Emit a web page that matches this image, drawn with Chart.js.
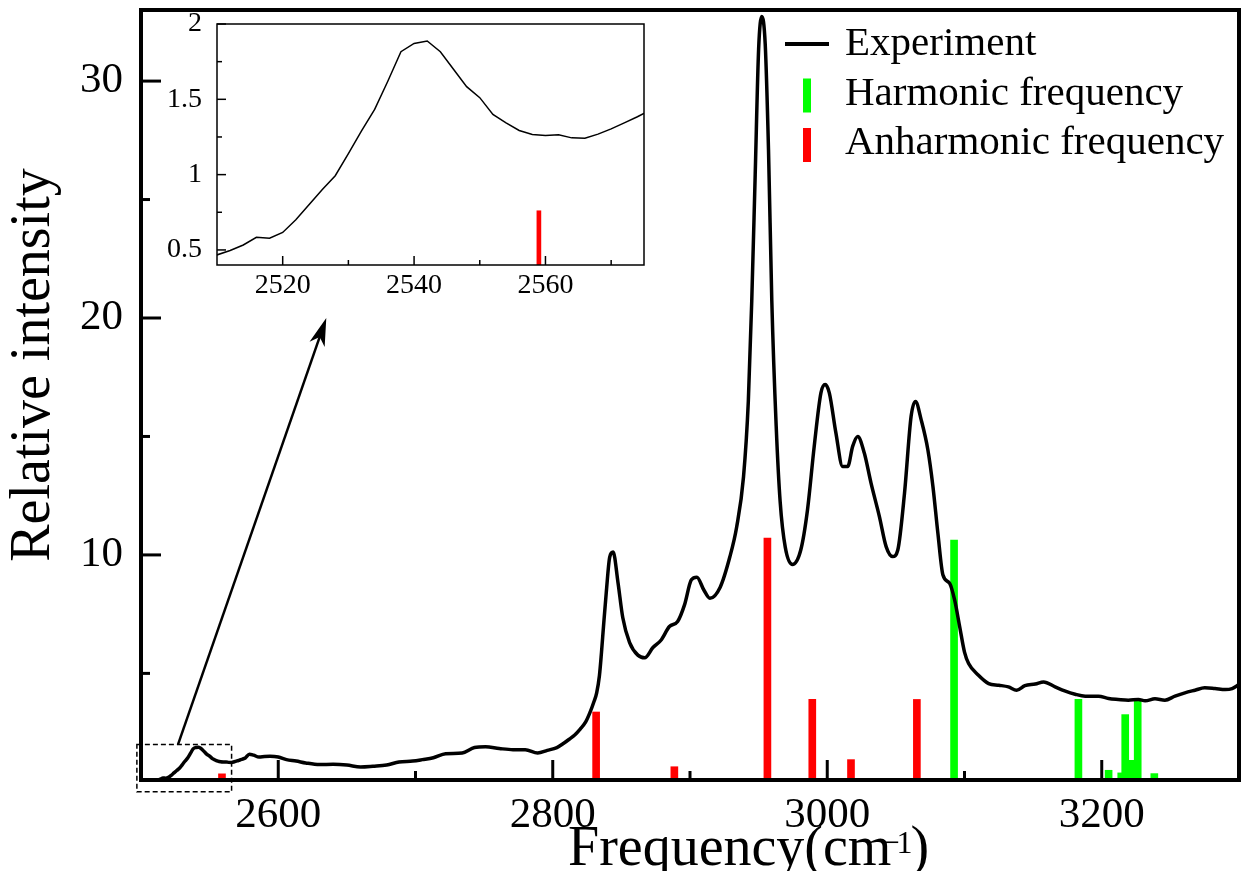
<!DOCTYPE html>
<html>
<head>
<meta charset="utf-8">
<title>Relative intensity vs frequency</title>
<script src="https://cdn.jsdelivr.net/npm/chart.js@4.4.1/dist/chart.umd.min.js"></script>
<style>
  body { margin: 0; background: #fff; }
  .wrap { position: relative; width: 1241px; height: 871px; overflow: hidden; }
  #main { position: absolute; left: 0; top: 0; }
  #inset { position: absolute; left: 150px; top: 10px; }
</style>
</head>
<body>
<div class="wrap">
  <canvas id="main" width="1241" height="871"></canvas>
  <canvas id="inset" width="500" height="300"></canvas>
</div>
<script>
// experiment spectrum
const expFreq = [
  2500, 2504, 2507, 2510, 2512, 2514, 2516, 2518, 2520, 2522, 2524, 2526, 2528, 2530,
  2532, 2534, 2536, 2538, 2540, 2542, 2544, 2546, 2548, 2550, 2552, 2554, 2556, 2558,
  2560, 2562, 2564, 2566, 2568, 2570, 2572, 2574, 2576, 2579, 2582, 2586, 2590, 2594,
  2600, 2606, 2613, 2620, 2630, 2640, 2650, 2660, 2669, 2679, 2688, 2698, 2705, 2713,
  2722, 2734, 2743, 2751, 2761, 2771, 2780, 2789, 2796, 2803, 2808, 2812, 2816, 2820,
  2824, 2827, 2830, 2832, 2834, 2835.5, 2837, 2839, 2841.5, 2844, 2847.5, 2851, 2856, 2862,
  2867, 2873, 2879, 2885, 2891, 2896, 2901, 2905, 2910, 2914.5, 2922, 2929, 2934, 2939,
  2942.5, 2945, 2947.5, 2950, 2952.3, 2954.8, 2957.2, 2959.6, 2962.8, 2965.7, 2969.4, 2974.7,
  2980.7, 2985.6, 2990.5, 2995.4, 2998.5, 3001.5, 3006.3, 3011.2, 3014.9, 3018.5, 3022.2, 3027,
  3031.9, 3038, 3042.9, 3047.7, 3051.4, 3056.3, 3061.1, 3064.3, 3068.4, 3073.3, 3077, 3080.6,
  3084.3, 3089.2, 3092.8, 3096.5, 3100, 3103, 3110, 3117.6, 3125, 3132, 3138, 3144,
  3151.6, 3157.6, 3166, 3173, 3180.6, 3188, 3197.6, 3205, 3212, 3219.4, 3226.7, 3231.6,
  3238.8, 3246, 3253.4, 3260.6, 3268, 3275, 3282.5, 3290, 3295, 3300
];
const expIntensity = [
  0.40, 0.43, 0.45, 0.467, 0.496, 0.533, 0.584, 0.578, 0.616, 0.70, 0.80, 0.90, 0.993, 1.14,
  1.29, 1.433, 1.62, 1.816, 1.871, 1.887, 1.816, 1.70, 1.584, 1.511, 1.40, 1.344, 1.293, 1.267,
  1.26, 1.264, 1.244, 1.242, 1.269, 1.304, 1.344, 1.384, 1.43, 1.59, 1.55, 1.47, 1.49, 1.50,
  1.47, 1.36, 1.30, 1.22, 1.15, 1.16, 1.13, 1.05, 1.08, 1.13, 1.26, 1.30, 1.36, 1.44,
  1.61, 1.64, 1.87, 1.90, 1.83, 1.78, 1.78, 1.64, 1.75, 1.87, 2.05, 2.22, 2.40, 2.65,
  2.95, 3.33, 3.80, 4.18, 4.90, 5.88, 7.0, 8.42, 9.91, 10.12, 8.85, 7.36, 6.30, 5.77,
  5.66, 6.09, 6.41, 6.98, 7.19, 7.89, 8.95, 9.06, 8.53, 8.17, 8.64, 9.91, 11.18, 13.30,
  16.49, 20.73, 26.04, 31.35, 32.73, 31.56, 27.1, 20.73, 15.43, 12.24, 10.33, 9.60,
  10.21, 11.9, 14.58, 16.84, 17.19, 16.84, 15.15, 13.73, 13.73, 14.58, 15.0, 14.3,
  13.03, 11.62, 10.35, 9.93, 10.21, 12.61, 15.85, 16.48, 15.71, 14.44, 12.89, 10.92,
  9.15, 8.80, 8.1, 6.97, 5.9, 5.42, 4.93, 4.57, 4.50, 4.43, 4.29, 4.48,
  4.55, 4.64, 4.43, 4.26, 4.12, 4.04, 4.04, 3.94, 3.90, 3.87, 3.90, 3.84,
  3.93, 3.87, 4.04, 4.18, 4.29, 4.39, 4.36, 4.32, 4.36, 4.53
];

// computed line positions
const harmonicFreq = [3092.4, 3183, 3205, 3214.2, 3217.1, 3222.2, 3226.2, 3238.3];
const harmonicIntensity = [10.63, 3.90, 0.91, 0.80, 3.26, 1.33, 3.90, 0.77];
const anharmonicFreq = [2559, 2831.6, 2888.6, 2956.4, 2989.1, 3017.3, 3065.3];
const anharmonicIntensity = [0.76, 3.37, 1.06, 10.71, 3.90, 1.36, 3.90];

// tick labels
const xTicks = [2600, 2800, 3000, 3200];
const yTicks = [10, 20, 30];
const insetXTicks = [2520, 2540, 2560];
const insetYTicks = [0.5, 1, 1.5, 2];

// zoom marker, in data units
const zoomBox = [2497, 0, 2566, 2];
const arrowFrom = [2527, 2.0];
const arrowTo = [2635, 20.0];

const FONT = '"Liberation Serif", "Times New Roman", serif';
Chart.defaults.font.family = FONT;
Chart.defaults.color = '#000';

const points = (xs, ys) => xs.map((x, i) => ({ x: x, y: ys[i] }));

function minorValues(majors, min, max) {
  const half = (majors[1] - majors[0]) / 2;
  const out = [];
  majors.forEach(v => [v - half, v + half].forEach(m => {
    if (m > min && m < max && !out.includes(m)) out.push(m);
  }));
  return out;
}

// fixed box size for a scale, no extra label padding
function fixSize(prop, size) {
  return s => {
    s[prop] = size;
    s.paddingTop = 0;
    s.paddingBottom = 0;
    s.paddingLeft = 0;
    s.paddingRight = 0;
  };
}

// ticks pointing into the plot, plus the frame
function innerTicks(major, minor, width, frame) {
  return {
    id: 'innerTicks',
    afterDraw(chart) {
      const { ctx, chartArea: a, scales: { x, y } } = chart;
      ctx.save();
      ctx.strokeStyle = '#000';
      ctx.lineWidth = width;
      const xs = x.ticks.map(t => t.value);
      const ys = y.ticks.map(t => t.value);
      const mark = (vals, len, isX) => vals.forEach(v => {
        ctx.beginPath();
        if (isX) {
          const px = x.getPixelForValue(v);
          ctx.moveTo(px, a.bottom);
          ctx.lineTo(px, a.bottom - len);
        } else {
          const py = y.getPixelForValue(v);
          ctx.moveTo(a.left, py);
          ctx.lineTo(a.left + len, py);
        }
        ctx.stroke();
      });
      mark(xs, major, true);
      mark(minorValues(xs, x.min, x.max), minor, true);
      mark(ys, major, false);
      mark(minorValues(ys, y.min, y.max), minor, false);
      ctx.lineWidth = frame;
      ctx.strokeRect(a.left, a.top, a.right - a.left, a.bottom - a.top);
      ctx.restore();
    }
  };
}

const zoomMarker = {
  id: 'zoomMarker',
  afterDraw(chart) {
    const { ctx, scales: { x, y } } = chart;
    ctx.save();
    ctx.strokeStyle = '#000';
    ctx.lineWidth = 1.5;
    ctx.setLineDash([5, 3]);
    const bx0 = x.getPixelForValue(zoomBox[0]), by0 = y.getPixelForValue(zoomBox[1]);
    const bx1 = x.getPixelForValue(zoomBox[2]), by1 = y.getPixelForValue(zoomBox[3]);
    ctx.strokeRect(bx0, by1, bx1 - bx0, by0 - by1);
    ctx.setLineDash([]);

    const sx = x.getPixelForValue(arrowFrom[0]), sy = y.getPixelForValue(arrowFrom[1]);
    const tx = x.getPixelForValue(arrowTo[0]), ty = y.getPixelForValue(arrowTo[1]);
    const ang = Math.atan2(ty - sy, tx - sx);
    const len = 28, half = 8, notch = 20;
    const cos = Math.cos(ang), sin = Math.sin(ang);
    ctx.lineWidth = 2.5;
    ctx.beginPath();
    ctx.moveTo(sx, sy);
    ctx.lineTo(tx - notch * cos, ty - notch * sin);
    ctx.stroke();
    ctx.fillStyle = '#000';
    ctx.beginPath();
    ctx.moveTo(tx, ty);
    ctx.lineTo(tx - len * cos + half * sin, ty - len * sin - half * cos);
    ctx.lineTo(tx - notch * cos, ty - notch * sin);
    ctx.lineTo(tx - len * cos - half * sin, ty - len * sin + half * cos);
    ctx.closePath();
    ctx.fill();
    ctx.restore();
  }
};

const cornerLegend = {
  id: 'cornerLegend',
  afterDraw(chart) {
    const ctx = chart.ctx;
    ctx.save();
    ctx.font = '41px ' + FONT;
    ctx.textBaseline = 'alphabetic';
    chart.data.datasets.forEach((ds, i) => {
      const base = 55 + i * 49.5;
      if (ds.type === 'line') {
        ctx.strokeStyle = ds.borderColor;
        ctx.lineWidth = 4;
        ctx.beginPath();
        ctx.moveTo(785, base - 11);
        ctx.lineTo(829, base - 11);
        ctx.stroke();
      } else {
        ctx.fillStyle = ds.backgroundColor;
        ctx.fillRect(803, base - 26, 8, 34);
      }
      ctx.fillStyle = '#000';
      ctx.fillText(ds.label, 845, base);
    });
    ctx.restore();
  }
};

const axisTitles = {
  id: 'axisTitles',
  afterDraw(chart) {
    const ctx = chart.ctx;
    ctx.save();
    ctx.fillStyle = '#000';
    ctx.textBaseline = 'alphabetic';
    ctx.font = '56px ' + FONT;

    ctx.save();
    ctx.translate(49, 365);
    ctx.rotate(-Math.PI / 2);
    ctx.textAlign = 'center';
    ctx.fillText('Relative intensity', 0, 0);
    ctx.restore();

    const x0 = 568, base = 865;
    ctx.textAlign = 'left';
    ctx.fillText('Frequency(cm', x0, base);
    const w = ctx.measureText('Frequency(cm').width;
    ctx.font = '32px ' + FONT;
    const sx = x0 + w - 10;
    ctx.fillText('\u2212', sx, base - 12);
    ctx.fillText('1', sx + 15, base - 12);
    ctx.font = '56px ' + FONT;
    ctx.fillText(')', sx + 29, base);
    ctx.restore();
  }
};

const mainChart = new Chart(document.getElementById('main'), {
  type: 'bar',
  data: {
    datasets: [
      {
        type: 'line',
        label: 'Experiment',
        data: points(expFreq, expIntensity),
        borderColor: '#000000',
        borderWidth: 3.5,
        pointRadius: 0,
        cubicInterpolationMode: 'monotone',
        order: 0,
        clip: 0
      },
      {
        type: 'bar',
        label: 'Harmonic frequency',
        data: points(harmonicFreq, harmonicIntensity),
        backgroundColor: '#00ff00',
        barThickness: 7,
        grouped: false,
        order: 1,
        clip: 0
      },
      {
        type: 'bar',
        label: 'Anharmonic frequency',
        data: points(anharmonicFreq, anharmonicIntensity),
        backgroundColor: '#ff0000',
        barThickness: 7,
        grouped: false,
        order: 2,
        clip: 0
      }
    ]
  },
  options: {
    responsive: false,
    animation: false,
    layout: { padding: { top: 10, right: 2, left: 0, bottom: 0 } },
    plugins: { legend: { display: false }, tooltip: { enabled: false } },
    scales: {
      x: {
        type: 'linear',
        min: 2500,
        max: 3300,
        offset: false,
        grid: { display: false, offset: false },
        border: { display: false },
        afterBuildTicks: s => { s.ticks = xTicks.map(v => ({ value: v })); },
        afterFit: fixSize('height', 91),
        ticks: {
          font: { size: 43 },
          color: '#000',
          padding: 2,
          maxRotation: 0,
          autoSkip: false,
          callback: v => String(v)
        }
      },
      y: {
        type: 'linear',
        min: 0.5,
        max: 33,
        grid: { display: false },
        border: { display: false },
        afterBuildTicks: s => { s.ticks = yTicks.map(v => ({ value: v })); },
        afterFit: fixSize('width', 141),
        ticks: {
          font: { size: 43 },
          color: '#000',
          padding: 10,
          autoSkip: false,
          callback: v => String(v)
        }
      }
    }
  },
  plugins: [innerTicks(20, 9, 3, 4), zoomMarker, cornerLegend, axisTitles]
});

const insetBackground = {
  id: 'insetBackground',
  beforeDraw(chart) {
    const { ctx, chartArea: a } = chart;
    ctx.save();
    ctx.fillStyle = '#fff';
    ctx.fillRect(a.left, a.top, a.right - a.left, a.bottom - a.top);
    ctx.restore();
  }
};

const insetChart = new Chart(document.getElementById('inset'), {
  type: 'bar',
  data: {
    datasets: [
      {
        type: 'line',
        label: 'Experiment',
        data: points(expFreq, expIntensity),
        borderColor: '#000000',
        borderWidth: 1.5,
        pointRadius: 0,
        tension: 0,
        order: 0,
        clip: 0
      },
      {
        type: 'bar',
        label: 'Anharmonic frequency',
        data: points(anharmonicFreq, anharmonicIntensity),
        backgroundColor: '#ff0000',
        barThickness: 4,
        grouped: false,
        order: 1,
        clip: 0
      }
    ]
  },
  options: {
    responsive: false,
    animation: false,
    layout: { padding: { top: 14, right: 6, left: 0, bottom: 0 } },
    plugins: { legend: { display: false }, tooltip: { enabled: false } },
    scales: {
      x: {
        type: 'linear',
        min: 2510,
        max: 2575,
        offset: false,
        grid: { display: false, offset: false },
        border: { display: false },
        afterBuildTicks: s => { s.ticks = insetXTicks.map(v => ({ value: v })); },
        afterFit: fixSize('height', 45),
        ticks: {
          font: { size: 28 },
          color: '#000',
          padding: -4,
          maxRotation: 0,
          autoSkip: false,
          callback: v => String(v)
        }
      },
      y: {
        type: 'linear',
        min: 0.4,
        max: 2,
        grid: { display: false },
        border: { display: false },
        afterBuildTicks: s => { s.ticks = insetYTicks.map(v => ({ value: v })); },
        afterFit: fixSize('width', 67),
        ticks: {
          font: { size: 28 },
          color: '#000',
          padding: 7,
          autoSkip: false,
          callback: v => String(v)
        }
      }
    }
  },
  plugins: [insetBackground, innerTicks(9, 5, 1.5, 1.5)]
});
</script>
</body>
</html>
